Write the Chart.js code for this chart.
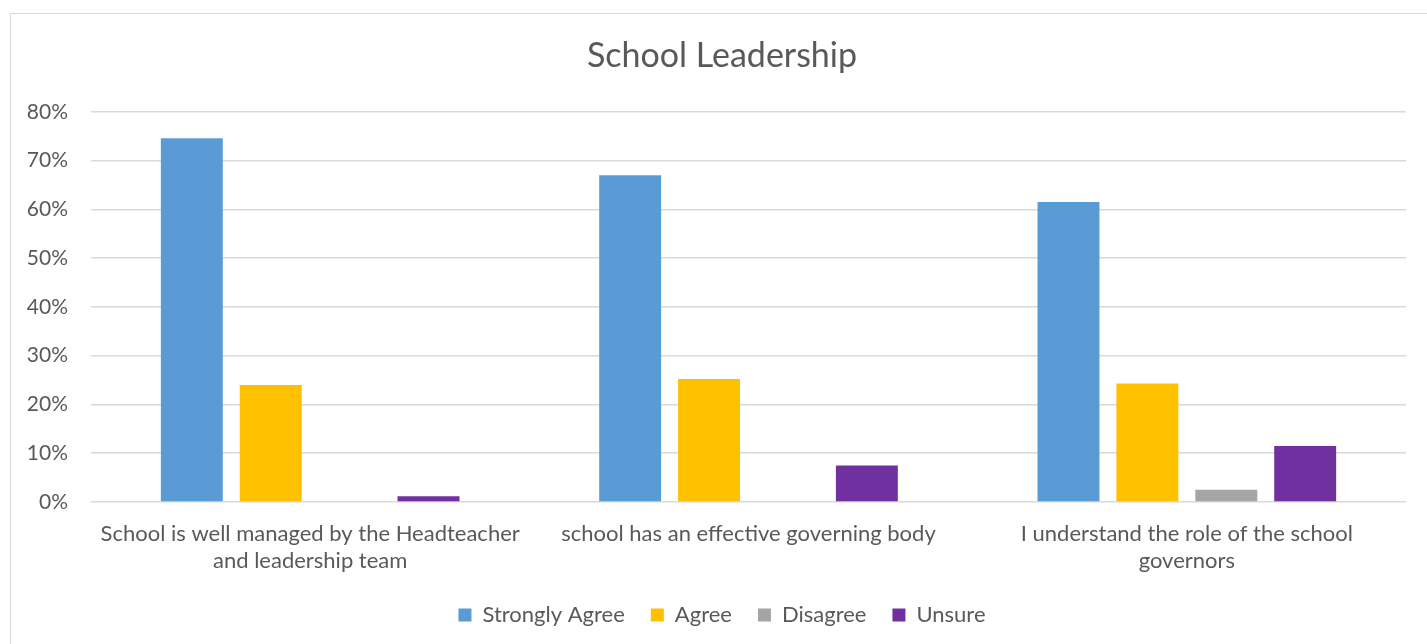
<!DOCTYPE html>
<html>
<head>
<meta charset="utf-8">
<script src="https://cdn.jsdelivr.net/npm/chart.js@4.4.1/dist/chart.umd.min.js"></script>
<style>
  html, body { margin: 0; padding: 0; background: #fff; overflow: hidden; }
  #frame { position: absolute; left: 10px; top: 13px; width: 1430px; height: 650px; border: 1px solid #d9d9d9; box-sizing: border-box; }
  #wrap { position: absolute; left: 11px; top: 14px; width: 1422px; height: 630px; }
</style>
</head>
<body>
<div id="frame"></div>
<div id="wrap"><canvas id="c"></canvas></div>
<script>
const categories = [
  ["School is well managed by the Headteacher", "and leadership team"],
  ["school has an effective governing body"],
  ["I understand the role of the school", "governors"]
];
const seriesNames = ["Strongly Agree", "Agree", "Disagree", "Unsure"];
const stronglyAgree = [74.6, 67.0, 61.5];
const agree = [24.0, 25.2, 24.3];
const disagree = [0, 0, 2.5];
const unsure = [1.2, 7.5, 11.5];
const colors = ["#5b9bd5", "#ffc000", "#a5a5a5", "#7030a0"];
const yTicks = [0, 10, 20, 30, 40, 50, 60, 70, 80];

const FONT = "Lato, 'Open Sans', sans-serif";
const TXT = "#595959";

const ds = [stronglyAgree, agree, disagree, unsure].map((d, i) => ({
  label: seriesNames[i],
  data: d,
  backgroundColor: colors[i],
  borderWidth: 0,
  categoryPercentage: 0.72,
  barPercentage: 0.785
}));

new Chart(document.getElementById('c'), {
  type: 'bar',
  data: { labels: categories, datasets: ds },
  options: {
    responsive: true,
    maintainAspectRatio: false,
    animation: false,
    layout: { padding: { left: 0, right: 0, top: 22, bottom: 8 } },
    plugins: {
      title: {
        display: true,
        text: "School Leadership",
        color: TXT,
        font: { family: FONT, size: 34, weight: 'normal' },
        padding: { top: 0, bottom: 35 }
      },
      legend: {
        position: 'bottom',
        labels: {
          color: TXT,
          font: { family: FONT, size: 22 },
          boxWidth: 13,
          boxHeight: 13,
          padding: 26
        }
      },
      tooltip: { enabled: false }
    },
    scales: {
      x: {
        afterFit: s => { s.height = 76; },
        grid: { display: false, drawTicks: false },
        border: { display: false },
        ticks: { color: TXT, font: { family: FONT, size: 22, lineHeight: 1.25 }, padding: 18, maxRotation: 0, autoSkip: false }
      },
      y: {
        min: 0, max: 80,
        afterFit: s => { s.width = 80; },
        afterBuildTicks: s => { s.ticks = yTicks.map(v => ({ value: v })); },
        grid: { color: "#d9d9d9", lineWidth: 1.5, drawTicks: false },
        border: { display: false },
        ticks: { color: TXT, font: { family: FONT, size: 21 }, padding: 23, callback: v => v + "%" }
      },
      yRight: {
        position: 'right',
        min: 0, max: 80,
        afterFit: s => { s.width = 27; },
        grid: { display: false, drawTicks: false },
        border: { display: false },
        ticks: { display: false }
      }
    }
  }
});
</script>
</body>
</html>
